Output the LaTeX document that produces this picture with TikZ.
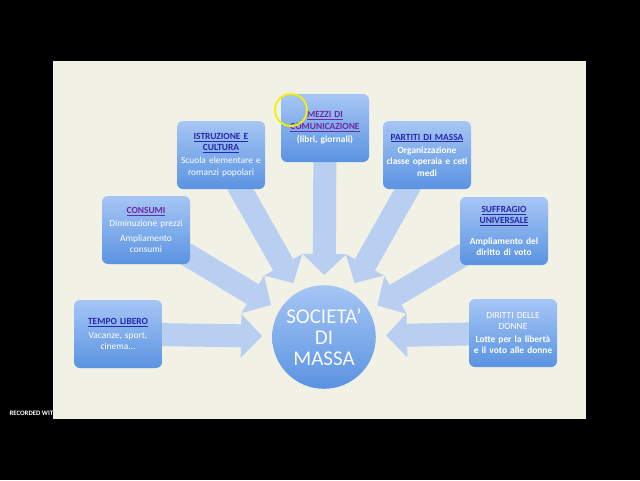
\documentclass[tikz,border=0pt]{standalone}
\usepackage{fontspec}
\setmainfont{Carlito}
\usetikzlibrary{arrows.meta,backgrounds}
\definecolor{lavagna}{HTML}{F1F1E5}
\definecolor{boxtop}{HTML}{A6C6F5}
\definecolor{boxbot}{HTML}{5A93E1}
\definecolor{frecciablu}{HTML}{B9CFF1}
\definecolor{linkblu}{HTML}{2828A8}
\definecolor{linkvio}{HTML}{6F2A9F}
\newcommand{\titolo}[2]{\textcolor{#1}{\textbf{\underline{#2}}}}
\begin{document}
\begin{tikzpicture}[x=1pt,y=-1pt,
   riquadro/.style={rounded corners=6pt,top color=boxtop,bottom color=boxbot,
      minimum width=87pt,minimum height=68pt,text width=88pt,inner sep=0pt,
      align=center,text=white,font=\fontsize{9.4}{11.3}\selectfont},
   freccia/.style={draw=frecciablu,line width=23pt,
      -{Triangle[width=44pt,length=21pt,line width=0pt]},
      shorten >=10pt,shorten <=-6pt}]
   \node[riquadro] (tempo) at (118,334) {\titolo{linkblu}{TEMPO LIBERO}\\[2pt] Vacanze, sport,\\ cinema...};
   \node[riquadro] (consumi) at (146,230) {\titolo{linkvio}{CONSUMI}\\[2pt] Diminuzione prezzi\\[3pt] Ampliamento\\ consumi};
   \node[riquadro] (istruzione) at (221,155) {\titolo{linkblu}{ISTRUZIONE E}\\ \titolo{linkblu}{CULTURA}\\[2pt] Scuola elementare e\\ romanzi popolari};
   \node[riquadro] (mezzi) at (325,128) {\titolo{linkvio}{MEZZI DI}\\ \titolo{linkvio}{COMUNICAZIONE}\\[2pt] \textbf{(libri, giornali)}};
   \node[riquadro] (partiti) at (427,155) {\titolo{linkblu}{PARTITI DI MASSA}\\[2pt] \textbf{Organizzazione}\\ \textbf{classe operaia e ceti}\\ \textbf{medi}};
   \node[riquadro] (suffragio) at (504,231) {\titolo{linkblu}{SUFFRAGIO}\\ \titolo{linkblu}{UNIVERSALE}\\[9pt] \textbf{Ampliamento del}\\ \textbf{diritto di voto}};
   \node[riquadro] (diritti) at (513,333) {DIRITTI DELLE\\ DONNE\\[2pt] \textbf{Lotte per la libertà}\\ \textbf{e il voto alle donne}};
   \node[circle,minimum size=102pt,top color=boxtop,bottom color=boxbot,text=white!92!boxtop,
      align=center,font=\fontsize{21}{21}\selectfont] (societa) at (324,337) {SOCIETA'\\ DI\\ MASSA};
   \draw[yellow!85!lime,line width=1.8pt] (291,110) circle (16pt);
   \begin{scope}[on background layer]
      \fill[black] (0,0) rectangle (640,480);
      \node[anchor=west,text=white,font=\fontsize{6.8}{8}\selectfont\bfseries] (registra) at (6,413) {RECORDED WITH};
      \fill[lavagna] (53,61) rectangle (586,419);
      \foreach \n in {tempo,consumi,istruzione,mezzi,partiti,suffragio,diritti}
         \draw[freccia] (\n) -- (societa);
   \end{scope}
\end{tikzpicture}
\end{document}
